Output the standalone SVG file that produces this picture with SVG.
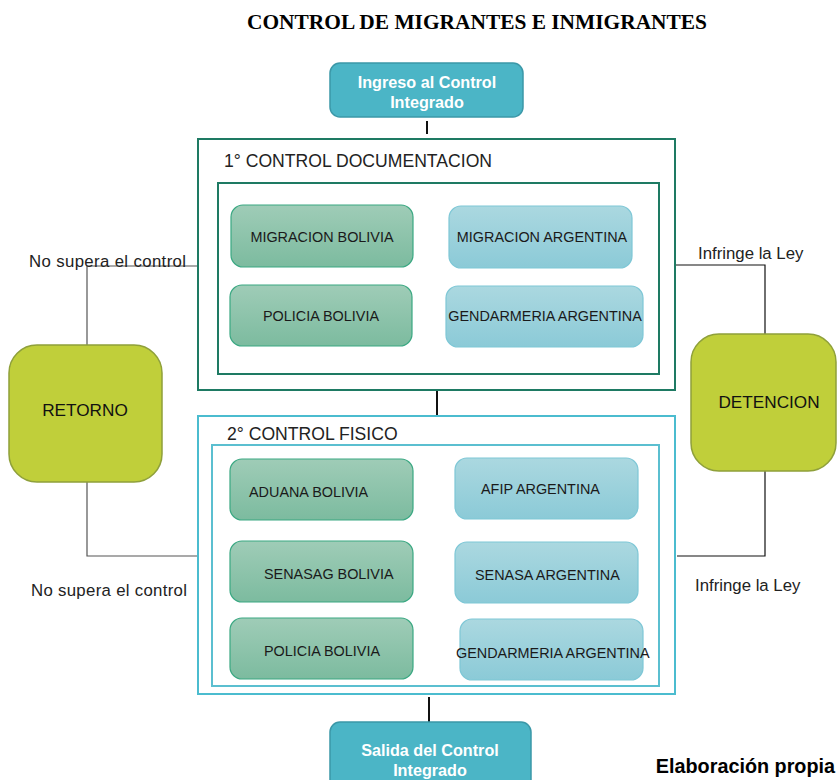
<svg xmlns="http://www.w3.org/2000/svg" width="837" height="780" viewBox="0 0 837 780">
<defs>
<linearGradient id="gG" x1="0" y1="0" x2="0" y2="1"><stop offset="0" stop-color="#9fccb7"/><stop offset="1" stop-color="#7cbb9f"/></linearGradient>
<linearGradient id="gB" x1="0" y1="0" x2="0" y2="1"><stop offset="0" stop-color="#abd8e0"/><stop offset="1" stop-color="#8bcad7"/></linearGradient>
</defs>
<style>
text{font-family:"Liberation Sans",Arial,sans-serif;}
.t{font-family:"Liberation Serif","Times New Roman",serif;font-weight:bold;font-size:21.4px;fill:#000;}
.teal{fill:#4bb5c6;stroke:#3b98a8;stroke-width:1.5;}
.wt{fill:#fff;font-weight:bold;font-size:16.2px;}
.g{fill:url(#gG);stroke:#3aa882;stroke-width:1.2;}
.b{fill:url(#gB);stroke:#7ec7d6;stroke-width:1.2;}
.nt{fill:#1a1a1a;font-size:14.4px;}
.hd{fill:#222;font-size:17.6px;}
.lime{fill:#c0cf3a;stroke:#8fa03a;stroke-width:1.5;}
.lt{fill:#111;font-size:17.2px;}
.lab{fill:#222;font-size:16.8px;}
.cl{fill:none;stroke:#555;stroke-width:1.2;}
.cr{fill:none;stroke:#111;stroke-width:1.2;}
.ck{fill:none;stroke:#111;stroke-width:2;}
</style>
<text class="t" x="477" y="29" text-anchor="middle">CONTROL DE MIGRANTES E INMIGRANTES</text>

<g id="connectors">
<line class="ck" x1="427" y1="121" x2="427" y2="134"/>
<line class="ck" x1="437" y1="391" x2="437" y2="415"/>
<line class="ck" x1="429" y1="697" x2="429" y2="722"/>
<polyline class="cl" points="198,266 87,266 87,345"/>
<polyline class="cl" points="87,482 87,556 198,556"/>
<polyline class="cr" points="676,265 765,265 765,334"/>
<polyline class="cr" points="765,471 765,556 677,556"/>
<text class="lab" x="29" y="267" textLength="157">No supera el control</text>
<text class="lab" x="31" y="596" textLength="156">No supera el control</text>
<text class="lab" x="698" y="259">Infringe la Ley</text>
<text class="lab" x="695" y="591">Infringe la Ley</text>
</g>

<g id="ingreso">
<rect class="teal" x="330" y="63" width="193" height="54" rx="10"/>
<text class="wt" x="427" y="88" text-anchor="middle">Ingreso al Control</text>
<text class="wt" x="427" y="108" text-anchor="middle">Integrado</text>
</g>

<g id="control1">
<rect x="198" y="139" width="477" height="251" fill="none" stroke="#1e7a63" stroke-width="2"/>
<text class="hd" x="224" y="167">1° CONTROL DOCUMENTACION</text>
<rect x="218" y="183" width="441" height="191" fill="none" stroke="#1e7a63" stroke-width="2"/>
</g>
<g id="migracion-bolivia"><rect class="g" x="231" y="205" width="182" height="62" rx="12"/><text class="nt" x="322" y="242" text-anchor="middle">MIGRACION BOLIVIA</text></g>
<g id="policia-bolivia-1"><rect class="g" x="230" y="285" width="182" height="61" rx="12"/><text class="nt" x="321" y="321" text-anchor="middle">POLICIA BOLIVIA</text></g>
<g id="migracion-argentina"><rect class="b" x="449" y="206" width="183" height="62" rx="12"/><text class="nt" x="542" y="242" text-anchor="middle">MIGRACION ARGENTINA</text></g>
<g id="gendarmeria-argentina-1"><rect class="b" x="446" y="286" width="197" height="61" rx="12"/><text class="nt" x="545" y="321" text-anchor="middle">GENDARMERIA ARGENTINA</text></g>

<g id="control2">
<rect x="198" y="416" width="477" height="278" fill="none" stroke="#4bbccf" stroke-width="2"/>
<text class="hd" x="227" y="440">2° CONTROL FISICO</text>
<rect x="212" y="445" width="447" height="241" fill="none" stroke="#5bbfd0" stroke-width="2"/>
</g>
<g id="aduana-bolivia"><rect class="g" x="230" y="459" width="183" height="61" rx="12"/><text class="nt" x="249" y="497">ADUANA BOLIVIA</text></g>
<g id="senasag-bolivia"><rect class="g" x="230" y="541" width="183" height="61" rx="12"/><text class="nt" x="264" y="579">SENASAG BOLIVIA</text></g>
<g id="policia-bolivia-2"><rect class="g" x="230" y="618" width="183" height="61" rx="12"/><text class="nt" x="264" y="656">POLICIA BOLIVIA</text></g>
<g id="afip-argentina"><rect class="b" x="455" y="458" width="183" height="61" rx="12"/><text class="nt" x="481" y="494">AFIP ARGENTINA</text></g>
<g id="senasa-argentina"><rect class="b" x="455" y="542" width="183" height="61" rx="12"/><text class="nt" x="475" y="580">SENASA ARGENTINA</text></g>
<g id="gendarmeria-argentina-2"><rect class="b" x="460" y="619" width="183" height="61" rx="12"/><text class="nt" x="456" y="658">GENDARMERIA ARGENTINA</text></g>

<g id="retorno"><rect class="lime" x="9" y="345" width="153" height="137" rx="28"/><text class="lt" x="85" y="416" text-anchor="middle">RETORNO</text></g>
<g id="detencion"><rect class="lime" x="691" y="334" width="145" height="137" rx="28"/><text class="lt" x="769" y="408" text-anchor="middle">DETENCION</text></g>

<g id="salida">
<rect class="teal" x="330" y="722" width="201" height="70" rx="10"/>
<text class="wt" x="430" y="756" text-anchor="middle">Salida del Control</text>
<text class="wt" x="430" y="776" text-anchor="middle">Integrado</text>
</g>
<text x="835" y="773" text-anchor="end" font-weight="bold" font-size="19.8" fill="#000">Elaboración propia</text>
</svg>
